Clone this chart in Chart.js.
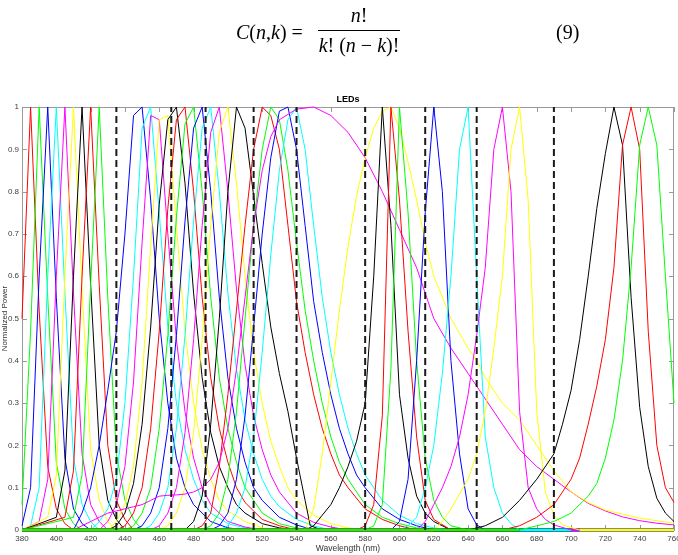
<!DOCTYPE html>
<html>
<head>
<meta charset="utf-8">
<script src="https://cdn.jsdelivr.net/npm/chart.js@4.4.1/dist/chart.umd.min.js"></script>
<style>
  html, body { margin: 0; padding: 0; background: #fff; overflow: hidden; }
  #wrap { position: relative; width: 678px; height: 555px; }
  #ledChart { position: absolute; left: 0; top: 0; }
  .eq { position: absolute; font-family: 'Liberation Serif', 'DejaVu Serif', serif; font-size: 20px; line-height: 20px; color: #000; white-space: nowrap; }
  .eq i { font-style: italic; }
  .frac { width: 82px; text-align: center; }
  #bar { position: absolute; left: 318px; top: 30px; width: 82px; height: 1px; background: #000; }
</style>
</head>
<body>
<div id="wrap">
  <canvas id="ledChart" width="678" height="555"></canvas>
  <div class="eq" style="left:236px; top:22px;"><i>C</i>(<i>n</i>,<i>k</i>) =</div>
  <div class="eq frac" style="left:318px; top:5px;"><i>n</i>!</div>
  <div id="bar"></div>
  <div class="eq frac" style="left:318px; top:35px;"><i>k</i>! (<i>n</i> − <i>k</i>)!</div>
  <div class="eq" style="left:556px; top:22px;">(9)</div>
</div>
<script>
// --- données ---
const wlTicks = [380, 400, 420, 440, 460, 480, 500, 520, 540, 560, 580, 600, 620, 640, 660, 680, 700, 720, 740, 760];
const powerTickLabels = ['0', '0.1', '0.2', '0.3', '0.4', '0.5', '0.6', '0.7', '0.8', '0.9', '1'];
const cutoffs = [435, 467, 487, 515, 540, 580, 615, 645, 690];
const ledColors = ['#ff0000', '#00ff00', '#0000ff', '#00ffff', '#ff00ff', '#ffff00', '#000000'];

// spectres [nm, puissance], dans l'ordre de tracé (r g b c m y k ...)
const led385 = [[380,0.5],[385,1],[390,0.52],[395,0.15],[400,0.05],[405,0.015],[410,0],[760,0]];
const led390 = [[380,0.06],[385,0.47],[390,1],[395,0.55],[400,0.16],[405,0.05],[410,0.015],[415,0],[760,0]];
const led395 = [[380,0.01],[385,0.1],[390,0.6],[395,1],[400,0.55],[405,0.17],[410,0.05],[415,0.015],[420,0],[760,0]];
const led400 = [[380,0],[385,0.01],[390,0.1],[395,0.6],[400,1],[405,0.56],[410,0.17],[415,0.06],[420,0.02],[425,0],[760,0]];
const led405 = [[380,0],[390,0.02],[395,0.12],[400,0.6],[405,1],[410,0.56],[415,0.18],[420,0.06],[425,0.02],[430,0],[760,0]];
const led410 = [[380,0],[395,0.03],[400,0.13],[405,0.6],[410,1],[415,0.57],[420,0.19],[425,0.07],[430,0.02],[435,0],[760,0]];
const led415 = [[380,0],[400,0.03],[405,0.14],[410,0.6],[415,1],[420,0.58],[425,0.2],[430,0.07],[435,0.025],[440,0],[760,0]];
const led420 = [[380,0],[405,0.03],[410,0.14],[415,0.6],[420,1],[425,0.58],[430,0.2],[435,0.07],[440,0.025],[445,0],[760,0]];
const led425 = [[380,0],[410,0.03],[415,0.13],[420,0.58],[425,1],[430,0.55],[435,0.18],[440,0.07],[445,0.025],[450,0],[760,0]];
const led447 = [[380,0],[410,0],[415,0.04],[420,0.1],[425,0.2],[430,0.33],[435,0.47],[440,0.7],[445,0.98],[450,1],[455,0.78],[460,0.5],[465,0.3],[470,0.17],[475,0.1],[480,0.06],[490,0.02],[500,0.005],[510,0],[760,0]];
const led454 = [[380,0],[420,0],[425,0.02],[430,0.05],[435,0.12],[440,0.3],[445,0.6],[450,0.95],[455,1],[460,0.75],[465,0.48],[470,0.3],[475,0.19],[480,0.12],[485,0.07],[490,0.04],[500,0.015],[510,0.005],[520,0],[760,0]];
const led458 = [[380,0],[425,0],[430,0.02],[435,0.06],[440,0.15],[445,0.35],[450,0.68],[455,0.98],[460,0.97],[465,0.7],[470,0.45],[475,0.28],[480,0.17],[485,0.1],[490,0.06],[500,0.02],[510,0.007],[520,0],[760,0]];
const led463 = [[380,0],[430,0],[435,0.02],[440,0.06],[445,0.15],[450,0.35],[455,0.67],[460,0.97],[465,0.98],[470,0.72],[475,0.47],[480,0.3],[485,0.19],[490,0.12],[495,0.07],[500,0.045],[510,0.02],[520,0.005],[530,0],[760,0]];
const led469 = [[380,0],[430,0],[435,0.01],[440,0.04],[445,0.11],[450,0.25],[455,0.48],[460,0.77],[465,0.97],[470,1],[475,0.82],[480,0.56],[485,0.36],[490,0.23],[495,0.15],[500,0.1],[505,0.06],[510,0.04],[520,0.015],[530,0.005],[540,0],[760,0]];
const led474 = [[380,0],[435,0],[440,0.01],[445,0.04],[450,0.1],[455,0.24],[460,0.47],[465,0.76],[470,0.97],[475,1],[480,0.8],[485,0.55],[490,0.36],[495,0.24],[500,0.16],[505,0.1],[510,0.065],[520,0.025],[530,0.01],[540,0],[760,0]];
const led480 = [[380,0],[440,0],[445,0.01],[450,0.04],[455,0.1],[460,0.24],[465,0.46],[470,0.74],[475,0.96],[480,1],[485,0.8],[490,0.55],[495,0.36],[500,0.24],[505,0.16],[510,0.1],[520,0.04],[530,0.015],[540,0.005],[550,0],[760,0]];
const led485 = [[380,0],[445,0],[450,0.01],[455,0.04],[460,0.1],[465,0.24],[470,0.46],[475,0.73],[480,0.95],[485,1],[490,0.8],[495,0.55],[500,0.36],[505,0.24],[510,0.16],[515,0.1],[520,0.07],[530,0.03],[540,0.012],[550,0],[760,0]];
const led490 = [[380,0],[450,0],[455,0.01],[460,0.04],[465,0.1],[470,0.24],[475,0.46],[480,0.73],[485,0.95],[490,1],[495,0.8],[500,0.56],[505,0.38],[510,0.26],[515,0.18],[520,0.12],[525,0.08],[530,0.055],[540,0.025],[550,0.01],[560,0],[760,0]];
const led494 = [[380,0],[455,0],[460,0.01],[465,0.04],[470,0.1],[475,0.23],[480,0.45],[485,0.72],[490,0.94],[495,1],[500,0.8],[505,0.57],[510,0.39],[515,0.27],[520,0.19],[525,0.13],[530,0.09],[540,0.04],[550,0.018],[560,0.007],[570,0],[760,0]];
const led499 = [[380,0],[460,0],[465,0.01],[470,0.04],[475,0.1],[480,0.23],[485,0.45],[490,0.72],[495,0.94],[500,1],[505,0.82],[510,0.6],[515,0.42],[520,0.3],[525,0.21],[530,0.15],[535,0.1],[540,0.07],[550,0.035],[560,0.015],[570,0.005],[580,0],[760,0]];
const led505 = [[380,0],[475,0],[480,0.02],[485,0.08],[490,0.25],[495,0.5],[500,0.8],[505,1],[510,0.95],[515,0.79],[520,0.63],[525,0.48],[530,0.37],[535,0.28],[540,0.17],[545,0.07],[548,0.01],[555,0],[760,0]];
const led521 = [[380,0],[480,0],[485,0.01],[490,0.04],[495,0.15],[500,0.32],[505,0.52],[510,0.72],[515,0.9],[520,1],[525,0.98],[530,0.9],[535,0.72],[540,0.54],[545,0.42],[550,0.32],[555,0.24],[560,0.18],[565,0.13],[570,0.1],[580,0.05],[590,0.025],[600,0.01],[610,0],[760,0]];
const led526 = [[380,0],[485,0],[490,0.01],[495,0.04],[500,0.12],[505,0.28],[510,0.5],[515,0.72],[520,0.9],[525,1],[530,0.97],[535,0.85],[540,0.68],[545,0.52],[550,0.4],[555,0.3],[560,0.22],[565,0.16],[570,0.12],[580,0.06],[590,0.03],[600,0.015],[610,0.005],[620,0],[760,0]];
const led533 = [[380,0],[490,0],[495,0.01],[500,0.04],[505,0.12],[510,0.27],[515,0.48],[520,0.7],[525,0.88],[530,0.99],[535,1],[540,0.9],[545,0.72],[550,0.54],[555,0.42],[560,0.32],[565,0.24],[570,0.18],[575,0.13],[580,0.1],[590,0.05],[600,0.025],[610,0.01],[620,0],[760,0]];
const led538 = [[380,0],[495,0],[500,0.01],[505,0.04],[510,0.1],[515,0.22],[520,0.42],[525,0.65],[530,0.85],[535,0.97],[540,1],[545,0.9],[550,0.72],[555,0.55],[560,0.42],[565,0.32],[570,0.24],[575,0.18],[580,0.13],[585,0.1],[590,0.07],[600,0.035],[610,0.015],[620,0.005],[630,0],[760,0]];
const led550 = [[380,0],[410,0],[415,0.01],[420,0.02],[425,0.03],[430,0.04],[435,0.045],[440,0.05],[445,0.055],[450,0.06],[455,0.07],[460,0.08],[465,0.082],[470,0.083],[475,0.085],[480,0.09],[485,0.1],[490,0.12],[495,0.16],[500,0.24],[505,0.38],[510,0.55],[515,0.72],[520,0.85],[525,0.93],[530,0.97],[540,0.995],[550,1],[560,0.98],[570,0.94],[580,0.88],[590,0.8],[600,0.71],[610,0.62],[620,0.5],[630,0.43],[640,0.37],[650,0.31],[660,0.25],[670,0.19],[680,0.15],[690,0.12],[700,0.09],[710,0.063],[720,0.045],[730,0.031],[740,0.022],[750,0.016],[760,0.012]];
const led592 = [[380,0],[545,0],[550,0.05],[555,0.18],[560,0.35],[565,0.52],[570,0.67],[575,0.79],[580,0.88],[585,0.95],[590,0.99],[595,1],[600,0.95],[605,0.87],[610,0.78],[615,0.68],[620,0.6],[630,0.5],[640,0.43],[645,0.4],[650,0.36],[660,0.3],[670,0.26],[680,0.2],[690,0.14],[700,0.09],[710,0.065],[720,0.047],[740,0.028],[760,0.016]];
const led590 = [[380,0],[545,0],[550,0.01],[560,0.06],[565,0.1],[570,0.15],[575,0.21],[580,0.3],[585,0.6],[590,1],[595,0.72],[600,0.32],[605,0.17],[610,0.08],[615,0.04],[620,0.02],[630,0],[760,0]];
const led595 = [[380,0],[575,0],[580,0.01],[585,0.06],[590,0.27],[595,1],[600,0.78],[605,0.47],[610,0.22],[615,0.07],[620,0.025],[630,0],[760,0]];
const led600 = [[380,0],[580,0],[585,0.01],[590,0.06],[595,0.38],[600,1],[605,0.75],[610,0.4],[615,0.17],[620,0.07],[625,0.03],[630,0.01],[640,0],[760,0]];
const led620 = [[380,0],[595,0],[600,0.02],[605,0.12],[610,0.4],[615,0.75],[620,1],[625,0.8],[630,0.4],[635,0.18],[640,0.05],[645,0.012],[650,0],[760,0]];
const led640 = [[380,0],[600,0],[605,0.01],[610,0.03],[615,0.1],[620,0.2],[625,0.37],[630,0.6],[635,0.9],[640,1],[645,0.6],[650,0.22],[655,0.1],[660,0.04],[665,0.015],[670,0],[760,0]];
const led660 = [[380,0],[610,0],[615,0.02],[620,0.06],[625,0.1],[630,0.15],[635,0.22],[640,0.32],[645,0.46],[650,0.62],[655,0.9],[660,1],[665,0.8],[670,0.28],[675,0.1],[680,0.05],[685,0.025],[690,0.012],[700,0],[760,0]];
const led670 = [[380,0],[620,0],[625,0.02],[630,0.05],[640,0.12],[645,0.18],[650,0.28],[655,0.43],[660,0.6],[665,0.9],[670,1],[675,0.78],[680,0.28],[685,0.09],[690,0.035],[695,0.012],[705,0],[760,0]];
const led725 = [[380,0],[640,0],[650,0.01],[660,0.03],[670,0.07],[680,0.12],[690,0.18],[695,0.25],[700,0.33],[705,0.45],[710,0.6],[715,0.76],[720,0.89],[725,1],[730,0.91],[735,0.55],[740,0.29],[745,0.15],[750,0.075],[755,0.04],[760,0.02]];
const led735 = [[380,0],[660,0],[670,0.01],[680,0.03],[690,0.06],[700,0.12],[705,0.17],[710,0.25],[715,0.34],[720,0.45],[725,0.62],[730,0.91],[735,1],[740,0.9],[745,0.47],[750,0.2],[755,0.1],[760,0.065]];
const led745 = [[380,0],[670,0],[680,0.01],[690,0.02],[700,0.04],[710,0.08],[715,0.11],[720,0.17],[725,0.26],[730,0.4],[735,0.62],[740,0.91],[745,1],[750,0.91],[755,0.6],[760,0.3]];

const leds = [led385, led390, led395, led400, led405, led410, led415, led420, led425,
  led447, led454, led458, led463, led469, led474, led480, led485, led490, led494, led499, led505,
  led521, led526, led533, led538, led550, led592, led590, led595, led600, led620, led640, led660, led670,
  led725, led735, led745];

const FONT = "'Liberation Sans', Arial, Helvetica, sans-serif";

// cadre + ticks vers l'intérieur (style matlab)
const boxTicks = {
  id: 'boxTicks',
  beforeDatasetsDraw(chart) {
    const { ctx, chartArea: a, scales } = chart;
    ctx.save();
    ctx.strokeStyle = '#9a9a9a';
    ctx.lineWidth = 1;
    ctx.strokeRect(a.left + 0.5, a.top + 0.5, a.right - a.left - 1, a.bottom - a.top - 1);
    ctx.beginPath();
    scales.x.ticks.forEach(t => {
      const px = Math.round(scales.x.getPixelForValue(t.value)) + 0.5;
      ctx.moveTo(px, a.bottom); ctx.lineTo(px, a.bottom - 5);
      ctx.moveTo(px, a.top); ctx.lineTo(px, a.top + 5);
    });
    scales.y.ticks.forEach(t => {
      const py = Math.round(scales.y.getPixelForValue(t.value)) + 0.5;
      ctx.moveTo(a.left, py); ctx.lineTo(a.left + 5, py);
      ctx.moveTo(a.right, py); ctx.lineTo(a.right - 5, py);
    });
    ctx.stroke();
    ctx.restore();
  }
};

// les segments à zéro s'empilent : trait de base plus épais
const zeroWidth = ctx => (ctx.p0.parsed.y === 0 && ctx.p1.parsed.y === 0) ? 2.5 : 1;

const datasets = leds.map((pts, i) => ({
  data: pts.map(p => ({ x: p[0], y: p[1] })),
  borderColor: ledColors[i % 7],
  borderWidth: 1,
  segment: { borderWidth: zeroWidth },
  pointRadius: 0,
  fill: false,
  tension: 0,
  clip: 3,
  order: leds.length - i + 1
}));
cutoffs.forEach(c => datasets.push({
  data: [{ x: c, y: 0 }, { x: c, y: 1 }],
  borderColor: '#1a1a1a',
  borderWidth: 2,
  borderDash: [7, 4],
  pointRadius: 0,
  fill: false,
  clip: 3,
  order: 0
}));

new Chart(document.getElementById('ledChart'), {
  type: 'line',
  data: { datasets: datasets },
  options: {
    responsive: false,
    animation: false,
    devicePixelRatio: 1,
    layout: { padding: { top: 94.6, right: 4, bottom: 0, left: 0 }, autoPadding: false },
    plugins: {
      legend: { display: false },
      tooltip: { enabled: false },
      title: { display: true, fullSize: false, text: 'LEDs', color: '#000', font: { family: FONT, size: 9, weight: 'bold' }, padding: { top: 0, bottom: 1.6 } }
    },
    scales: {
      x: {
        type: 'linear', min: 380, max: 760,
        afterBuildTicks: s => { s.ticks = wlTicks.map(v => ({ value: v })); },
        ticks: { color: '#404040', font: { family: FONT, size: 8 }, padding: 4, maxRotation: 0, autoSkip: false },
        grid: { display: false, drawTicks: false },
        border: { display: true, color: '#9a9a9a' },
        title: { display: true, text: 'Wavelength (nm)', color: '#333', font: { family: FONT, size: 8.5 }, padding: { top: 0, bottom: 1 } },
        afterFit: s => { s.height = 25; s.paddingLeft = 0; s.paddingRight = 0; }
      },
      y: {
        type: 'linear', min: 0, max: 1,
        ticks: { stepSize: 0.1, color: '#404040', font: { family: FONT, size: 8 }, padding: 3, callback: (v, i) => powerTickLabels[i] },
        grid: { display: false, drawTicks: false },
        border: { display: true, color: '#9a9a9a' },
        title: { display: true, text: 'Normalized Power', color: '#333', font: { family: FONT, size: 8 }, padding: { top: 0, bottom: 0 } },
        afterFit: s => { s.width = 22; s.paddingTop = 0; s.paddingBottom = 0; }
      }
    }
  },
  plugins: [boxTicks]
});
</script>
</body>
</html>
